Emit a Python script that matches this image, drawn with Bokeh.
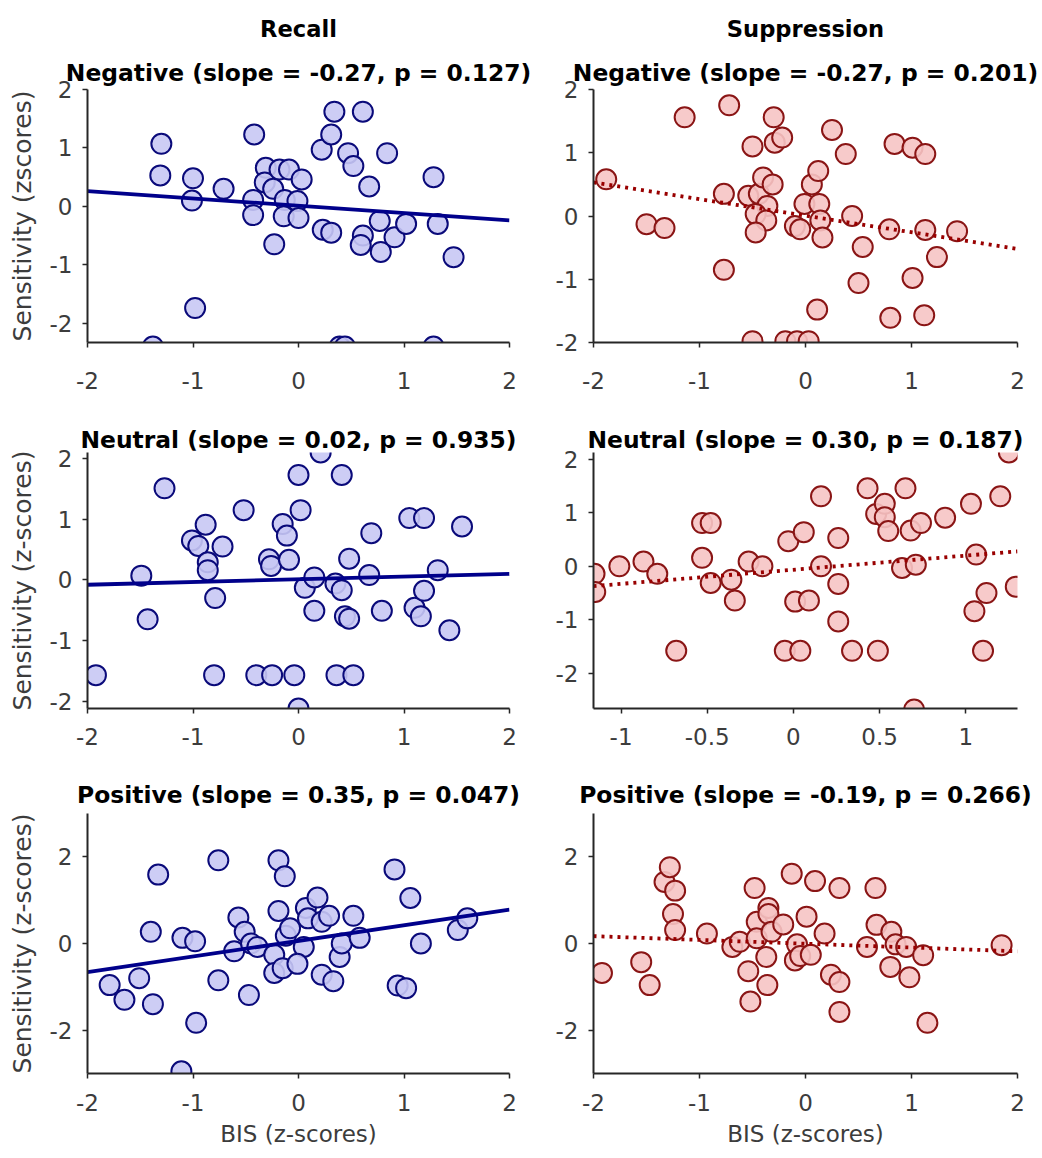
from bokeh.plotting import figure
from bokeh.layouts import column, row
from bokeh.models import Title, FixedTicker, Range1d
from bokeh.embed import file_html
from bokeh.resources import INLINE

# ---------------- data ----------------
col_headers = ["Recall", "Suppression"]
x_label = "BIS (z-scores)"
y_labels = ["Sensitivity (zscores)", "Sensitivity (z-scores)", "Sensitivity (z-scores)"]

subtitles = [
    "Negative (slope = -0.27, p = 0.127)", "Negative (slope = -0.27, p = 0.201)",
    "Neutral (slope = 0.02, p = 0.935)", "Neutral (slope = 0.30, p = 0.187)",
    "Positive (slope = 0.35, p = 0.047)", "Positive (slope = -0.19, p = 0.266)",
]

# Recall / Negative
rn_x = [-1.30, -1.31, -1.38, -1.00, -1.01, -0.98, -0.71, -0.42, -0.43, -0.43, -0.31, -0.32, -0.24, -0.23, -0.18,
        -0.09, -0.13, -0.14, 0.03, -0.01, 0.00, 0.22, 0.31, 0.34, 0.61, 0.23, 0.31, 0.47, 0.52, 0.67,
        0.39, 0.44, 0.61, 0.59, 0.77, 0.78, 0.84, 0.91, 1.02, 1.28, 1.32, 1.28, 1.47]
rn_y = [1.07, 0.53, -2.40, 0.48, 0.10, -1.74, 0.30, 1.23, 0.11, -0.15, 0.66, 0.41, 0.30, -0.65, 0.63,
        0.63, 0.11, -0.17, 0.46, 0.09, -0.20, 0.97, 1.23, 1.62, 1.62, -0.40, -0.45, 0.91, 0.69, 0.34,
        -2.40, -2.40, -0.50, -0.66, -0.25, -0.78, 0.91, -0.53, -0.30, 0.50, -0.30, -2.40, -0.87]
rn_fit_x = [-2.0, 2.0]
rn_fit_y = [0.26, -0.24]

# Suppression / Negative
sn_x = [-1.88, -1.50, -1.33, -1.14, -0.72, -0.77, -0.77, -0.50, -0.54, -0.44, -0.40, -0.31, -0.30, -0.29, -0.22,
        -0.36, -0.47, -0.37, -0.47, -0.50, -0.19, -0.08, 0.03, -0.10, -0.05, -0.01, 0.06, 0.12, 0.13, 0.14,
        0.16, 0.11, 0.25, 0.38, 0.44, 0.54, 0.50, 0.79, 0.84, 0.80, 1.01, 1.13, 1.01, 1.12, 1.13, 1.24, 1.43]
sn_y = [0.58, -0.13, -0.19, 1.56, 1.75, 0.35, -0.85, 1.10, 0.32, 0.35, 0.61, 0.50, 1.56, 1.16, 1.24,
        0.16, 0.03, -0.07, -0.26, -1.98, -1.98, -1.98, -1.98, -0.16, -0.21, 0.19, 0.50, 0.71, 0.19, -0.07,
        -0.34, -1.48, 1.36, 0.98, 0.00, -0.49, -1.06, -0.21, 1.14, -1.61, 1.08, 0.98, -0.98, -1.57, -0.22, -0.65, -0.24]
sn_fit_x = [-2.0, 2.0]
sn_fit_y = [0.53, -0.52]

# Recall / Neutral
rneu_x = [-1.92, -1.49, -1.43, -1.27, -1.01, -0.95, -0.88, -0.86, -0.86, -0.79, -0.80, -0.72, -0.52, -0.40, -0.28,
          -0.26, -0.25, -0.15, -0.11, -0.09, 0.00, 0.02, -0.04, 0.00, 0.06, 0.15, 0.15, 0.21, 0.35, 0.36,
          0.41, 0.41, 0.48, 0.44, 0.48, 0.52, 0.67, 0.69, 0.79, 1.05, 1.19, 1.10, 1.19, 1.16, 1.32, 1.43, 1.55]
rneu_y = [-1.57, 0.07, -0.65, 1.51, 0.65, 0.56, 0.91, 0.29, 0.16, -0.30, -1.57, 0.55, 1.15, -1.57, 0.34,
          0.23, -1.57, 0.92, 0.73, 0.33, 1.73, 1.15, -1.57, -2.12, -0.13, 0.04, -0.51, 2.10, -0.06, -1.57,
          -0.17, 1.73, 0.35, -0.60, -0.64, -1.57, 0.08, 0.77, -0.51, 1.02, 1.02, -0.46, -0.18, -0.60, 0.16, -0.83, 0.88]
rneu_fit_x = [-2.0, 2.0]
rneu_fit_y = [-0.08, 0.10]

# Suppression / Neutral
sneu_x = [-1.154, -1.15, -1.01, -0.87, -0.79, -0.68, -0.53, -0.48, -0.53, -0.48, -0.36, -0.34, -0.26, -0.18, -0.05,
          0.04, -0.03, 0.06, 0.01, 0.09, 0.16, 0.16, 0.26, 0.26, 0.26, 0.34, 0.43, 0.49, 0.48, 0.53,
          0.53, 0.55, 0.65, 0.63, 0.68, 0.71, 0.74, 0.70, 0.88, 1.03, 1.06, 1.05, 1.12, 1.10, 1.20, 1.25, 1.29]
sneu_y = [-0.14, -0.48, 0.00, 0.09, -0.14, -1.58, 0.81, 0.81, 0.16, -0.31, -0.25, -0.64, 0.09, 0.00, -1.58,
          -1.58, 0.47, 0.64, -0.66, -0.64, 1.31, 0.00, 0.53, -0.33, -1.03, -1.58, 1.46, -1.58, 0.98, 1.17,
          0.92, 0.66, 1.46, -0.03, 0.67, 0.03, 0.81, -2.68, 0.91, 1.17, 0.22, -0.84, -0.50, -1.58, 1.31, 2.13, -0.38]
sneu_fit_x = [-1.16, 1.30]
sneu_fit_y = [-0.37, 0.28]

# Recall / Positive
rp_x = [-1.79, -1.65, -1.51, -1.40, -1.38, -1.33, -1.10, -0.98, -0.97, -1.11, -0.76, -0.76, -0.61, -0.57, -0.51,
        -0.45, -0.39, -0.47, -0.23, -0.23, -0.19, -0.19, -0.13, -0.15, -0.12, -0.08, 0.05, -0.01, 0.07, 0.09,
        0.18, 0.22, 0.29, 0.22, 0.33, 0.39, 0.41, 0.52, 0.58, 0.91, 0.94, 1.02, 1.06, 1.16, 1.51, 1.60]
rp_y = [-0.96, -1.30, -0.80, 0.27, -1.40, 1.59, 0.13, 0.05, -1.83, -2.95, 1.92, -0.85, -0.18, 0.60, 0.27,
        0.00, -0.08, -1.19, -0.26, -0.68, 0.75, 1.92, 1.55, -0.57, 0.18, 0.35, -0.08, -0.47, 0.82, 0.58,
        1.06, 0.50, 0.64, -0.72, -0.87, -0.31, 0.00, 0.64, 0.13, 1.71, -0.97, -1.03, 1.05, 0.00, 0.31, 0.58]
rp_fit_x = [-2.0, 2.0]
rp_fit_y = [-0.66, 0.78]

# Suppression / Positive
sp_x = [-1.92, -1.55, -1.47, -1.33, -1.28, -1.23, -1.25, -1.23, -0.93, -0.69, -0.62, -0.54, -0.52, -0.48, -0.46,
        -0.46, -0.37, -0.35, -0.35, -0.32, -0.36, -0.21, -0.13, -0.08, -0.10, -0.05, 0.01, 0.05, 0.09, 0.18,
        0.24, 0.32, 0.32, 0.32, 0.58, 0.66, 0.67, 0.81, 0.80, 0.85, 0.95, 0.98, 1.11, 1.15, 1.85]
sp_y = [-0.68, -0.43, -0.96, 1.42, 1.76, 1.22, 0.68, 0.31, 0.23, -0.08, 0.04, -0.64, -1.34, 1.28, 0.50,
        0.12, -0.31, 0.82, 0.68, 0.27, -0.96, 0.44, 1.61, -0.02, -0.39, -0.29, 0.62, -0.26, 1.44, 0.23,
        -0.72, 1.28, -0.89, -1.58, -0.08, 1.28, 0.43, 0.27, -0.54, -0.02, -0.08, -0.78, -0.27, -1.83, -0.04]
sp_fit_x = [-2.0, 2.0]
sp_fit_y = [0.17, -0.18]

# axis limits
xlims = [(-2, 2), (-2, 2), (-2, 2), (-1.16, 1.30), (-2, 2), (-2, 2)]
ylims = [(-2.33, 2), (-2, 2), (-2.12, 2.10), (-2.66, 2.13), (-3, 3), (-3, 3)]

# ticks and tick labels
ticks_int = [-2, -1, 0, 1, 2]
ticks_int_labels = ["-2", "-1", "0", "1", "2"]
ticks_half = [-1, -0.5, 0, 0.5, 1]
ticks_half_labels = ["-1", "-0.5", "0", "0.5", "1"]
ticks_even = [-2, 0, 2]
ticks_even_labels = ["-2", "0", "2"]

# ---------------- styling ----------------
FONT = "DejaVu Sans"
TXT = "#3c3c3c"
STYLES = {
    "recall": dict(fill="#c8c8f4", edge="#0a0a7a", line="#00008b", dash="solid"),
    "supp": dict(fill="#f6c4c4", edge="#8a1515", line="#990000", dash="3 5"),
}

# layout (pixels)
ROWS = [dict(top=89, fh=253, bottom=57, xstand=24, tstand=6),
        dict(top=53, fh=256, bottom=47, xstand=14, tstand=-2),
        dict(top=58, fh=260, bottom=80, xstand=15, tstand=9)]
COLS = [dict(left=87, fw=422, right=38),
        dict(left=46, fw=424, right=22)]


def style_title(t, size, standoff):
    t.text_font = FONT
    t.text_font_size = size
    t.text_font_style = "bold"
    t.text_color = "#000000"
    t.align = "center"
    t.standoff = standoff


def make_panel(i, xs, ys, fx, fy, xt, xtl, yt, ytl, style):
    r, c = divmod(i, 2)
    R, C = ROWS[r], COLS[c]
    st = STYLES[style]
    outer_title = col_headers[c] if r == 0 else subtitles[i]
    p = figure(frame_width=C["fw"], frame_height=R["fh"],
               min_border_left=C["left"], min_border_right=C["right"],
               min_border_top=R["top"], min_border_bottom=R["bottom"],
               x_range=Range1d(*xlims[i]), y_range=Range1d(*ylims[i]),
               output_backend="svg", toolbar_location=None,
               title=outer_title)
    if r == 0:
        style_title(p.title, "22.6px", 24)
        sub = Title(text=subtitles[i])
        style_title(sub, "23.4px", R["tstand"])
        p.add_layout(sub, "above")
    else:
        style_title(p.title, "23.4px", R["tstand"])
    p.outline_line_color = None
    p.grid.visible = False
    p.background_fill_color = "white"
    p.border_fill_color = "white"

    p.scatter(xs, ys, size=20, marker="circle", fill_color=st["fill"], fill_alpha=0.9,
              line_color=st["edge"], line_width=2)
    p.line(fx, fy, line_color=st["line"], line_width=3.8, line_dash=st["dash"])

    for ax, ticks, labels in ((p.xaxis[0], xt, xtl), (p.yaxis[0], yt, ytl)):
        ax.ticker = FixedTicker(ticks=ticks)
        ax.major_label_overrides = {t: l for t, l in zip(ticks, labels)}
        ax.minor_tick_line_color = None
        ax.major_tick_in = 0
        ax.major_tick_out = 5
        ax.major_tick_line_width = 1.5
        ax.major_tick_line_color = "#262626"
        ax.axis_line_width = 2
        ax.axis_line_color = "#262626"
        ax.major_label_text_font = FONT
        ax.major_label_text_font_size = "23px"
        ax.major_label_text_color = TXT
        ax.axis_label_text_font = FONT
        ax.axis_label_text_font_style = "normal"
        ax.axis_label_text_color = TXT
    p.yaxis.major_label_standoff = 10
    p.xaxis.major_label_standoff = R["xstand"]
    if c == 0:
        p.yaxis.axis_label = y_labels[r]
        p.yaxis.axis_label_text_font_size = "25px"
        p.yaxis.axis_label_standoff = 10
    if r == 2:
        p.xaxis.axis_label = x_label
        p.xaxis.axis_label_text_font_size = "23px"
        p.xaxis.axis_label_standoff = 7
    return p


panels = [
    make_panel(0, rn_x, rn_y, rn_fit_x, rn_fit_y, ticks_int, ticks_int_labels, ticks_int, ticks_int_labels, "recall"),
    make_panel(1, sn_x, sn_y, sn_fit_x, sn_fit_y, ticks_int, ticks_int_labels, ticks_int, ticks_int_labels, "supp"),
    make_panel(2, rneu_x, rneu_y, rneu_fit_x, rneu_fit_y, ticks_int, ticks_int_labels, ticks_int, ticks_int_labels, "recall"),
    make_panel(3, sneu_x, sneu_y, sneu_fit_x, sneu_fit_y, ticks_half, ticks_half_labels, ticks_int, ticks_int_labels, "supp"),
    make_panel(4, rp_x, rp_y, rp_fit_x, rp_fit_y, ticks_int, ticks_int_labels, ticks_even, ticks_even_labels, "recall"),
    make_panel(5, sp_x, sp_y, sp_fit_x, sp_fit_y, ticks_int, ticks_int_labels, ticks_even, ticks_even_labels, "supp"),
]

layout = column(row(panels[0], panels[1]), row(panels[2], panels[3]), row(panels[4], panels[5]))
open("out.html", "w").write(file_html(layout, INLINE))
